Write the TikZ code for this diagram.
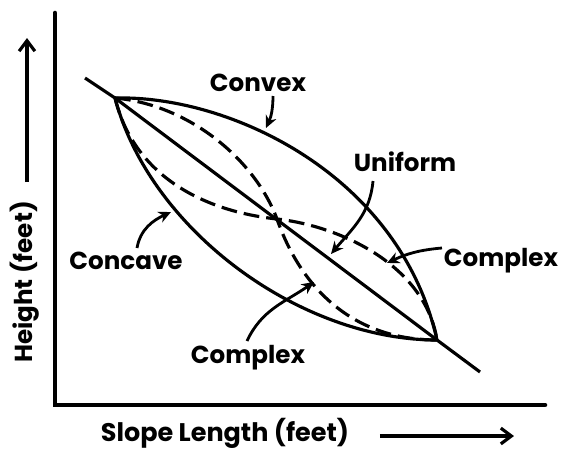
\documentclass[tikz,border=0pt]{standalone}
\usepackage{fontspec}
\setmainfont{Poppins}
\usepackage{tikz}
\usetikzlibrary{arrows.meta}

\tikzset{
  profile/.style={line width=1.8pt},
  profiledash/.style={line width=1.8pt, dash pattern=on 9pt off 4pt},
  pointer/.style={line width=1.6pt, -{Stealth[length=7pt,width=6.5pt]}},
  axisarrow/.style={line width=1.8pt, -{Straight Barb[length=6pt,width=9pt]}},
  tag/.style={font=\fontsize{14}{16}\selectfont\bfseries, inner sep=1pt},
}

\begin{document}
\begin{tikzpicture}[x=0.02cm, y=-0.02cm]
    \useasboundingbox (0,0) rectangle (566,450);
    \draw[line width=2.6pt, line cap=round] (55,13) -- (55,405) -- (545,405);
    \coordinate (crest) at (115,98);
    \coordinate (toe) at (437,340);
    \coordinate (mid) at (277,219);
    \draw[profile] (85,78) -- (crest) -- (toe) -- (480,372);
    \draw[profile] (crest) .. controls (230,95) and (400,175) .. (toe);
    \draw[profile] (crest) .. controls (150,230) and (300,340) .. (toe);
    \draw[profiledash] (crest) .. controls (190,105) and (255,160) .. (mid)
        .. controls (300,285) and (350,340) .. (toe);
    \draw[profiledash] (crest) .. controls (135,180) and (210,212) .. (mid)
        .. controls (340,226) and (425,265) .. (toe);
    \node[tag] (convex) at (258,83) {Convex};
    \node[tag] (uniform) at (405,162) {Uniform};
    \node[tag] (complexR) at (501,261) {Complex};
    \node[tag] (concave) at (126,261) {Concave};
    \node[tag] (complexB) at (248,358) {Complex};
    \coordinate (convexFoot) at (273,96);
    \coordinate (uniformFoot) at (373,181);
    \coordinate (complexRFoot) at (442,248);
    \coordinate (concaveFoot) at (137,248);
    \coordinate (complexBFoot) at (247,341);
    \coordinate (convexTip) at (266,128);
    \coordinate (uniformTip) at (331,254);
    \coordinate (complexRTip) at (387,263);
    \coordinate (concaveTip) at (171,212);
    \coordinate (complexBTip) at (314,282);
    \draw[pointer] (convexFoot) to[bend left=12] (convexTip);
    \draw[pointer] (uniformFoot) to[out=-95, in=50] (uniformTip);
    \draw[pointer] (complexRFoot) to[out=185, in=25] (complexRTip);
    \draw[pointer] (concaveFoot) to[out=80, in=205] (concaveTip);
    \draw[pointer] (complexBFoot) to[out=65, in=215] (complexBTip);
    \node[tag, rotate=90] (height) at (25,282) {Height (feet)};
    \node[tag, font=\fontsize{14.5}{16}\selectfont\bfseries] (length) at (225,433) {Slope Length (feet)};
    \coordinate (heightFrom) at (27,182);
    \coordinate (heightTo) at (27,38);
    \coordinate (lengthFrom) at (380,436);
    \coordinate (lengthTo) at (514,436);
    \draw[axisarrow] (heightFrom) -- (heightTo);
    \draw[axisarrow] (lengthFrom) -- (lengthTo);
\end{tikzpicture}
\end{document}
